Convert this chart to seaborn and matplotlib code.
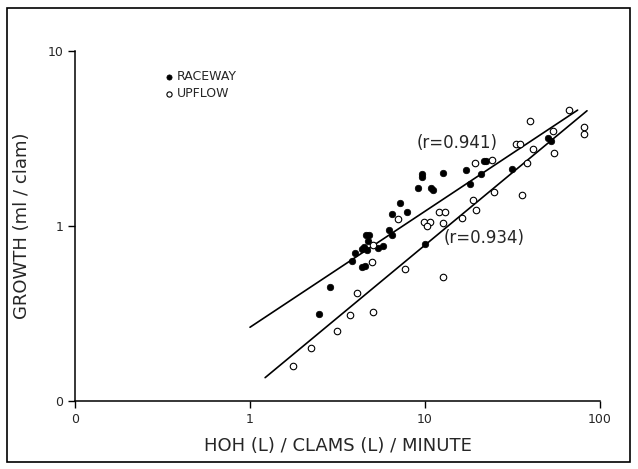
import numpy as np
import pandas as pd
import matplotlib
matplotlib.use("Agg")
import matplotlib.pyplot as plt
from matplotlib.patches import Rectangle
import seaborn as sns

# raceway (filled dots)
raceway_x = [2.48, 2.87, 3.81, 3.98, 4.36, 4.48, 4.36, 4.55, 4.60, 4.80, 4.72, 4.68,
             5.40, 5.79, 6.24, 6.51, 6.45, 7.18, 7.86, 9.12, 9.58, 9.58, 10.84, 11.13,
             12.73, 17.09, 18.03, 20.83, 21.74, 22.3, 31.3, 50.7, 52.6, 10.0]
raceway_y = [0.314, 0.449, 0.632, 0.705, 0.743, 0.759, 0.584, 0.592, 0.885, 0.885, 0.822, 0.727,
             0.749, 0.769, 0.945, 0.892, 1.165, 1.358, 1.202, 1.647, 1.988, 1.90, 1.653, 1.61,
             2.01, 2.10, 1.74, 1.99, 2.34, 2.37, 2.12, 3.19, 3.08, 0.79]

# upflow (open circles)
upflow_x = [1.77, 2.23, 3.16, 3.75, 4.11, 5.04, 5.01, 5.04, 6.98, 7.73, 9.89, 10.66,
            10.27, 12.06, 13.06, 12.73, 12.73, 16.37, 18.8, 19.5, 19.3, 24.2, 24.9, 33.0,
            34.8, 35.8, 38.5, 39.6, 41.3, 54.1, 54.9, 66.9, 80.7, 80.7]
upflow_y = [0.159, 0.202, 0.252, 0.310, 0.415, 0.321, 0.623, 0.783, 1.10, 0.571, 1.06, 1.06,
            0.995, 1.21, 1.21, 1.04, 0.512, 1.11, 1.40, 1.23, 2.29, 2.39, 1.56, 2.94,
            2.94, 1.51, 2.29, 3.97, 2.76, 3.48, 2.61, 4.60, 3.70, 3.36]

# fitted lines, end points
raceway_line_x = [1.0, 74.5]
raceway_line_y = [0.264, 4.60]
upflow_line_x = [1.22, 84.3]
upflow_line_y = [0.136, 4.56]

x_ticks = [0.1, 1, 10, 100]
x_tick_labels = ["0", "1", "10", "100"]
y_ticks = [0.1, 1, 10]
y_tick_labels = ["0", "1", "10"]

sns.set_style("ticks")
plt.rcParams["font.family"] = ["DejaVu Sans"]

fig = plt.figure(figsize=(6.38, 4.69), dpi=100)
ax = fig.add_axes([0.1176, 0.145, 0.8228, 0.746])

ax.set_xscale("log")
ax.set_yscale("log")

sns.lineplot(x=raceway_line_x, y=raceway_line_y, ax=ax, color="black", lw=1.2)
sns.lineplot(x=upflow_line_x, y=upflow_line_y, ax=ax, color="black", lw=1.2)

sns.scatterplot(x=raceway_x, y=raceway_y, ax=ax, color="black", edgecolor="black",
                s=22, linewidth=0.5, label="RACEWAY", zorder=3)
sns.scatterplot(x=upflow_x, y=upflow_y, ax=ax, color="white", edgecolor="black",
                s=22, linewidth=0.8, label="UPFLOW", zorder=3)

ax.set_xlim(0.1, 100)
ax.set_ylim(0.1, 10)
ax.set_xticks(x_ticks)
ax.set_xticklabels(x_tick_labels)
ax.set_yticks(y_ticks)
ax.set_yticklabels(y_tick_labels)
ax.minorticks_off()
ax.tick_params(axis="both", length=5, width=1, labelsize=9, color="black")
for side in ["top", "right"]:
    ax.spines[side].set_visible(False)
for side in ["left", "bottom"]:
    ax.spines[side].set_linewidth(1.1)
    ax.spines[side].set_color("black")

ax.set_xlabel("HOH (L) / CLAMS (L) / MINUTE", fontsize=13, labelpad=8)
ax.set_ylabel("GROWTH (ml / clam)", fontsize=13, labelpad=12)

ax.text(9.0, 3.0, "(r=0.941)", fontsize=12, va="center", ha="left")
ax.text(12.7, 0.85, "(r=0.934)", fontsize=12, va="center", ha="left")

leg = ax.legend(loc="upper left", bbox_to_anchor=(0.16, 0.96), frameon=False,
                handletextpad=0.2, handlelength=0.8, labelspacing=0.3,
                fontsize=9, markerscale=0.8, borderaxespad=0)

fig.patches.append(Rectangle((0.011, 0.015), 0.976, 0.968, transform=fig.transFigure,
                             fill=False, edgecolor="black", lw=1.2))

fig.savefig("out.png", dpi=100)
